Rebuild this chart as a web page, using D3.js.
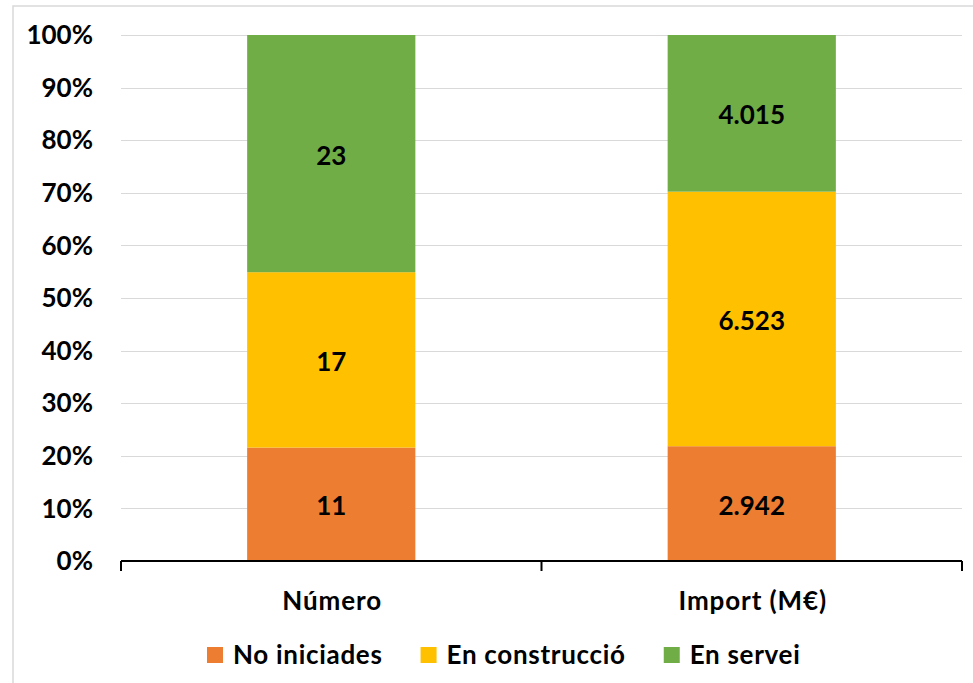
<!DOCTYPE html>
<html><head><meta charset="utf-8">
<script src="https://cdn.jsdelivr.net/npm/d3@7"></script>
<style>
html,body{margin:0;padding:0;background:#fff;}
svg{display:block;}
text{font-family:Lato,"Open Sans",sans-serif;font-weight:bold;fill:#000;}
</style></head>
<body><svg id="c" width="973" height="683"></svg>
<script>
const categories = ["Número", "Import (M€)"];
const seriesNames = ["No iniciades", "En construcció", "En servei"];
const noIniciades = [11, 2942];
const enConstruccio = [17, 6523];
const enServei = [23, 4015];
const valueLabels = [["11", "2.942"], ["17", "6.523"], ["23", "4.015"]];
const yTicks = [0, 0.1, 0.2, 0.3, 0.4, 0.5, 0.6, 0.7, 0.8, 0.9, 1.0];
const colors = ["#ED7D31", "#FFC000", "#70AD47"];

const svg = d3.select("#c");
// outer frame
svg.append("rect").attr("x", 13).attr("y", 6).attr("width", 1000).attr("height", 1000)
  .attr("fill", "none").attr("stroke", "#d9d9d9").attr("stroke-width", 1.5);

const pLeft = 121, pRight = 962, pTop = 35, pBottom = 561;
const x = d3.scaleBand().domain(categories).range([pLeft, pRight]).paddingInner(0.6).paddingOuter(0.3);
const y = d3.scaleLinear().domain([0, 1]).range([pBottom, pTop]);

const rows = categories.map((c, i) => {
  const o = {cat: c};
  const vals = [noIniciades[i], enConstruccio[i], enServei[i]];
  const tot = d3.sum(vals);
  seriesNames.forEach((s, j) => o[s] = vals[j] / tot);
  return o;
});
const stacked = d3.stack().keys(seriesNames)(rows);

// gridlines
svg.append("g").selectAll("line").data(yTicks.filter(d => d > 0)).join("line")
  .attr("x1", pLeft).attr("x2", pRight)
  .attr("y1", d => Math.round(y(d)) + 0.5).attr("y2", d => Math.round(y(d)) + 0.5)
  .attr("stroke", "#d9d9d9").attr("stroke-width", 1);

// y labels
svg.append("g").selectAll("text").data(yTicks).join("text")
  .attr("x", 93).attr("y", d => y(d)).attr("dy", "0.35em")
  .attr("text-anchor", "end").style("font-size", "26px")
  .text(d => d3.format(".0%")(d));

// bars
stacked.forEach((layer, j) => {
  svg.append("g").selectAll("rect").data(layer).join("rect")
    .attr("x", d => x(d.data.cat)).attr("width", x.bandwidth())
    .attr("y", d => y(d[1])).attr("height", d => y(d[0]) - y(d[1]))
    .attr("fill", colors[j]);
  svg.append("g").selectAll("text").data(layer).join("text")
    .attr("x", d => x(d.data.cat) + x.bandwidth() / 2)
    .attr("y", d => (y(d[0]) + y(d[1])) / 2 + 2).attr("dy", "0.35em")
    .attr("text-anchor", "middle").style("font-size", "26px")
    .text((d, i) => valueLabels[j][i]);
});

// x axis
const xa = svg.append("g");
xa.append("line").attr("x1", pLeft).attr("x2", pRight).attr("y1", pBottom).attr("y2", pBottom)
  .attr("stroke", "#000").attr("stroke-width", 2);
const tickXs = [pLeft, (pLeft + pRight) / 2, pRight];
xa.selectAll("line.t").data(tickXs).join("line").attr("class", "t")
  .attr("x1", d => d).attr("x2", d => d).attr("y1", pBottom).attr("y2", pBottom + 10)
  .attr("stroke", "#000").attr("stroke-width", 2);
xa.selectAll("text").data(categories).join("text")
  .attr("x", d => x(d) + x.bandwidth() / 2 + 1).attr("y", 601).attr("dy", "0.35em")
  .attr("text-anchor", "middle").style("font-size", "26px").style("letter-spacing", "0.9px")
  .text(d => d);

// legend
const lg = svg.append("g");
let lx = 207;
seriesNames.forEach((s, j) => {
  lg.append("rect").attr("x", lx).attr("y", 647).attr("width", 16).attr("height", 16).attr("fill", colors[j]);
  const t = lg.append("text").attr("x", lx + 26).attr("y", 655).attr("dy", "0.35em")
    .style("font-size", "26px").style("letter-spacing", "0.7px").text(s);
  lx = lx + 26 + t.node().getComputedTextLength() + 38;
});
</script></body></html>
